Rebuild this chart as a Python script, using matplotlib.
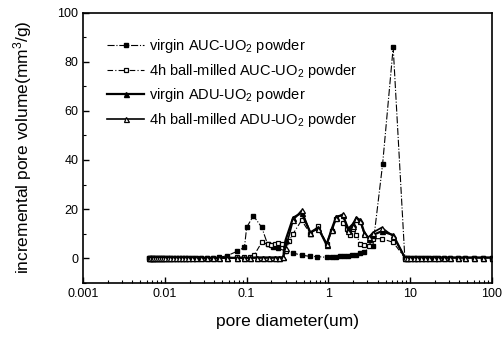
import matplotlib
matplotlib.use("Agg")
import matplotlib.pyplot as plt
from matplotlib.ticker import FixedLocator, NullFormatter

plt.rcParams['font.family'] = ['Liberation Sans', 'DejaVu Sans']
plt.rcParams['mathtext.default'] = 'regular'

# ---------------- data ----------------
d_virgin_auc = [0.0063, 0.0066, 0.0069, 0.0072, 0.0076, 0.0080, 0.0085, 0.0090, 0.0095, 0.0101,
                0.0108, 0.0116, 0.0125, 0.0135, 0.0147, 0.016, 0.0175, 0.019, 0.0215, 0.024,
                0.028, 0.033, 0.039, 0.046, 0.057, 0.076, 0.094, 0.100, 0.121, 0.153, 0.18,
                0.21, 0.245, 0.294, 0.373, 0.47, 0.59, 0.73, 0.95, 1.1, 1.25, 1.4, 1.55, 1.75,
                1.95, 2.2, 2.45, 2.7, 3.5, 4.6, 6.2, 8.6, 9.2, 10, 11, 12, 13.5, 15, 17, 19.5,
                22, 26, 31, 38, 47, 60, 78, 100]
v_virgin_auc = [0.2, 0.2, 0.2, 0.2, 0.2, 0.2, 0.2, 0.2, 0.2, 0.2,
                0.2, 0.2, 0.2, 0.2, 0.2, 0.2, 0.2, 0.2, 0.2, 0.2,
                0.2, 0.2, 0.3, 0.4, 1.0, 2.8, 4.5, 12.6, 17.3, 12.6, 5.8,
                4.8, 4.0, 3.1, 2.1, 1.3, 0.8, 0.7, 0.4, 0.6, 0.7, 0.8, 0.8, 0.9,
                1.2, 1.5, 2.0, 2.6, 5.0, 38.2, 85.8, 0.3, 0.3, 0.3, 0.3, 0.3, 0.3, 0.3, 0.3, 0.3,
                0.3, 0.3, 0.3, 0.3, 0.3, 0.3, 0.3, 0.3]

d_milled_auc = [0.0063, 0.0066, 0.0069, 0.0072, 0.0076, 0.0080, 0.0085, 0.0090, 0.0095, 0.0101,
                0.0108, 0.0116, 0.0125, 0.0135, 0.0147, 0.016, 0.0175, 0.019, 0.0215, 0.024,
                0.028, 0.033, 0.039, 0.046, 0.057, 0.076, 0.094, 0.11, 0.123, 0.153, 0.18,
                0.20, 0.22, 0.245, 0.27, 0.30, 0.33, 0.37, 0.47, 0.6, 0.75, 0.95, 1.1, 1.25,
                1.5, 1.7, 1.85, 2.0, 2.2, 2.45, 2.75, 3.1, 3.5, 4.48, 6.2, 8.6, 9.2, 10, 11, 12,
                13.5, 15, 17, 19.5, 22, 26, 31, 38, 47, 60, 78, 100]
v_milled_auc = [0.2, 0.2, 0.2, 0.2, 0.2, 0.2, 0.2, 0.2, 0.2, 0.2,
                0.2, 0.2, 0.2, 0.2, 0.2, 0.2, 0.2, 0.2, 0.2, 0.2,
                0.2, 0.2, 0.2, 0.2, 0.3, 0.4, 0.5, 0.6, 1.2, 6.5, 5.8,
                5.5, 6.0, 6.2, 5.8, 3.0, 7.0, 10.0, 15.5, 10.0, 13.0, 6.0, 11.0, 16.0,
                14.5, 12.0, 9.5, 12.0, 9.5, 6.0, 5.5, 5.0, 8.0, 8.0, 6.5, 0.3, 0.3, 0.3, 0.3, 0.3,
                0.3, 0.3, 0.3, 0.3, 0.3, 0.3, 0.3, 0.3, 0.3, 0.3, 0.3, 0.3]

d_virgin_adu = [0.0063, 0.0066, 0.0069, 0.0072, 0.0076, 0.0080, 0.0085, 0.0090, 0.0095, 0.0101,
                0.0108, 0.0116, 0.0125, 0.0135, 0.0147, 0.016, 0.0175, 0.019, 0.0215, 0.024,
                0.028, 0.033, 0.039, 0.046, 0.057, 0.076, 0.094, 0.11, 0.135, 0.16, 0.19,
                0.22, 0.25, 0.28, 0.30, 0.37, 0.47, 0.6, 0.75, 0.95, 1.1, 1.25, 1.5, 1.75, 2.0,
                2.2, 2.45, 2.75, 3.1, 3.5, 4.48, 6.2, 8.6, 9.2, 10, 11, 12, 13.5, 15, 17, 19.5,
                22, 26, 31, 38, 47, 60, 78, 100]
v_virgin_adu = [0.2, 0.2, 0.2, 0.2, 0.2, 0.2, 0.2, 0.2, 0.2, 0.2,
                0.2, 0.2, 0.2, 0.2, 0.2, 0.2, 0.2, 0.2, 0.2, 0.2,
                0.2, 0.2, 0.2, 0.2, 0.2, 0.2, 0.2, 0.2, 0.3, 0.3, 0.3,
                0.3, 0.3, 0.4, 7.5, 16.5, 18.5, 10.5, 12.5, 5.5, 12.0, 17.0, 17.5, 12.0, 14.0,
                16.5, 15.5, 10.5, 8.0, 9.5, 11.0, 9.5, 0.3, 0.3, 0.3, 0.3, 0.3, 0.3, 0.3, 0.3, 0.3,
                0.3, 0.3, 0.3, 0.3, 0.3, 0.3, 0.3, 0.3]

d_milled_adu = [0.0063, 0.0066, 0.0069, 0.0072, 0.0076, 0.0080, 0.0085, 0.0090, 0.0095, 0.0101,
                0.0108, 0.0116, 0.0125, 0.0135, 0.0147, 0.016, 0.0175, 0.019, 0.0215, 0.024,
                0.028, 0.033, 0.039, 0.046, 0.057, 0.076, 0.094, 0.11, 0.135, 0.16, 0.19,
                0.22, 0.25, 0.28, 0.30, 0.37, 0.47, 0.6, 0.75, 0.95, 1.1, 1.25, 1.5, 1.75, 2.0,
                2.2, 2.45, 2.75, 3.1, 3.5, 4.48, 6.2, 8.6, 9.2, 10, 11, 12, 13.5, 15, 17, 19.5,
                22, 26, 31, 38, 47, 60, 78, 100]
v_milled_adu = [0.2, 0.2, 0.2, 0.2, 0.2, 0.2, 0.2, 0.2, 0.2, 0.2,
                0.2, 0.2, 0.2, 0.2, 0.2, 0.2, 0.2, 0.2, 0.2, 0.2,
                0.2, 0.2, 0.2, 0.2, 0.2, 0.2, 0.2, 0.2, 0.3, 0.3, 0.3,
                0.3, 0.3, 0.4, 4.0, 15.5, 19.5, 10.5, 12.0, 6.0, 11.5, 16.5, 18.0, 11.0, 13.0,
                16.0, 15.0, 10.0, 8.5, 10.5, 12.5, 9.0, 0.3, 0.3, 0.3, 0.3, 0.3, 0.3, 0.3, 0.3, 0.3,
                0.3, 0.3, 0.3, 0.3, 0.3, 0.3, 0.3, 0.3]

labels = ["virgin AUC-UO$_2$ powder",
          "4h ball-milled AUC-UO$_2$ powder",
          "virgin ADU-UO$_2$ powder",
          "4h ball-milled ADU-UO$_2$ powder"]

x_ticks = [0.001, 0.01, 0.1, 1, 10, 100]
x_ticklabels = ["0.001", "0.01", "0.1", "1", "10", "100"]
y_ticks = [0, 20, 40, 60, 80, 100]

# ---------------- plot ----------------
fig = plt.figure(figsize=(5.04, 3.38), dpi=100)
ax = fig.add_axes([0.165, 0.163, 0.811, 0.800])

ax.plot(d_virgin_auc, v_virgin_auc, color='black', lw=0.8, ls='-.',
        marker='s', ms=3.2, mfc='black', mec='black', label=labels[0])
ax.plot(d_milled_auc, v_milled_auc, color='black', lw=0.8, ls=(0, (5, 2, 1, 2)),
        marker='s', ms=3.5, mfc='white', mec='black', mew=0.9, label=labels[1])
ax.plot(d_virgin_adu, v_virgin_adu, color='black', lw=1.6, ls='-',
        marker='^', ms=3.6, mfc='black', mec='black', label=labels[2])
ax.plot(d_milled_adu, v_milled_adu, color='black', lw=1.2, ls='-',
        marker='^', ms=3.6, mfc='white', mec='black', mew=0.9, label=labels[3])

ax.set_xscale('log')
ax.set_xlim(0.001, 100)
ax.set_ylim(-10, 100)
ax.xaxis.set_major_locator(FixedLocator(x_ticks))
ax.set_xticklabels(x_ticklabels)
ax.xaxis.set_minor_formatter(NullFormatter())
ax.set_yticks(y_ticks)
ax.yaxis.set_minor_locator(FixedLocator([-10, 10, 30, 50, 70, 90]))

ax.tick_params(which='both', direction='in', top=False, right=False, labelsize=9)
ax.tick_params(which='major', length=4, width=1)
ax.tick_params(which='minor', length=2.5, width=0.8)
for s in ax.spines.values():
    s.set_linewidth(1.2)

ax.set_xlabel("pore diameter(um)", fontsize=12.5, labelpad=10)
ax.set_ylabel("incremental pore volume(mm$^3$/g)", fontsize=12.5, labelpad=17)

leg = ax.legend(loc='upper left', bbox_to_anchor=(0.045, 0.93), frameon=False,
                fontsize=10.5, handlelength=2.5, handletextpad=0.35,
                labelspacing=0.45, borderaxespad=0)

fig.savefig("out.png", dpi=100)
